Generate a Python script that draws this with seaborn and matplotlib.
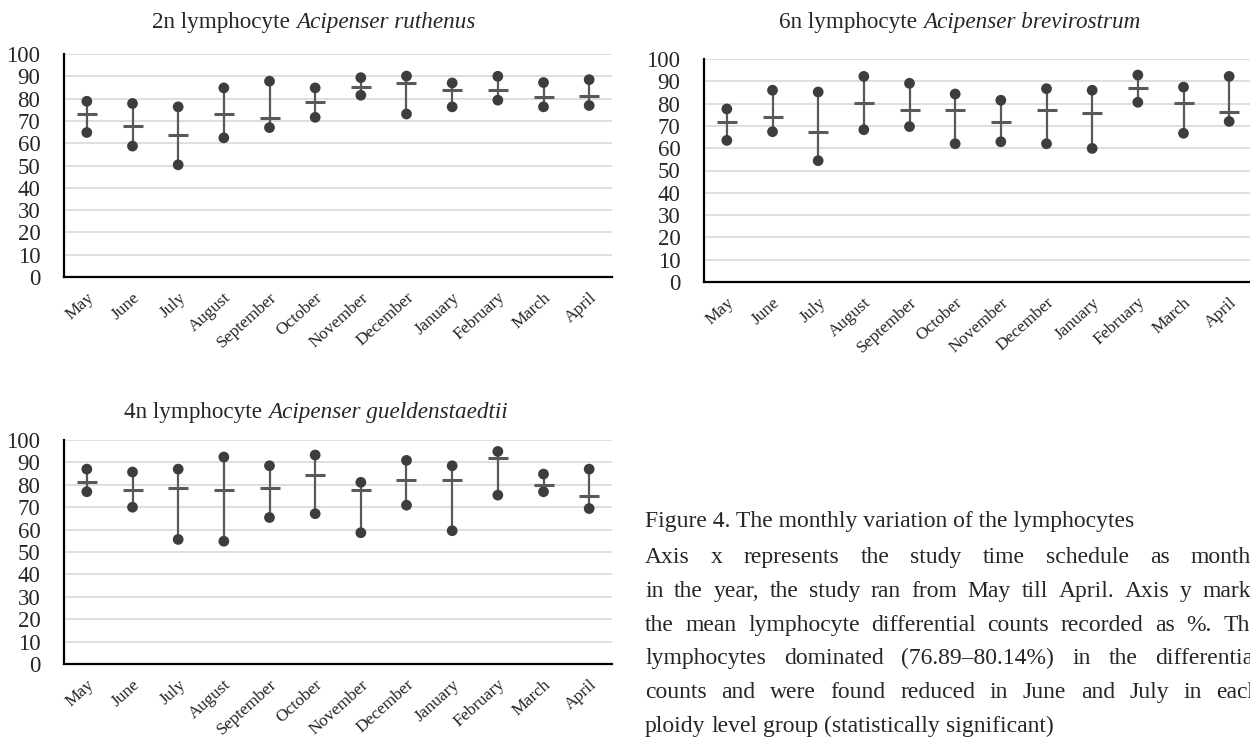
import numpy as np
import pandas as pd
import matplotlib
matplotlib.use("Agg")
import matplotlib.pyplot as plt
import seaborn as sns

# ---------------- data ----------------
months = ["May", "June", "July", "August", "September", "October",
          "November", "December", "January", "February", "March", "April"]

ruthenus_high = [78.8, 77.8, 76.3, 84.8, 87.8, 84.8, 89.4, 90.1, 87.0, 90.0, 87.2, 88.5]
ruthenus_mean = [73.0, 67.6, 63.7, 73.0, 71.3, 78.4, 85.2, 86.9, 83.7, 83.7, 80.7, 81.3]
ruthenus_low = [64.8, 58.7, 50.3, 62.4, 67.0, 71.6, 81.5, 73.1, 76.3, 79.3, 76.3, 76.9]

brevirostrum_high = [77.6, 86.0, 85.2, 92.2, 89.1, 84.3, 81.5, 86.7, 86.0, 92.8, 87.4, 92.2]
brevirostrum_mean = [71.7, 74.1, 67.1, 80.3, 77.3, 77.3, 71.7, 77.3, 75.6, 87.1, 80.3, 76.2]
brevirostrum_low = [63.5, 67.4, 54.4, 68.3, 69.7, 62.0, 62.9, 62.0, 59.9, 80.6, 66.7, 72.0]

gueld_high = [87.0, 85.7, 87.0, 92.4, 88.5, 93.3, 81.1, 90.9, 88.5, 94.9, 84.8, 87.0]
gueld_mean = [81.4, 77.6, 78.4, 77.6, 78.4, 84.5, 77.6, 82.3, 82.3, 92.1, 80.0, 75.1]
gueld_low = [76.9, 70.0, 55.6, 54.8, 65.4, 67.1, 58.6, 70.9, 59.5, 75.4, 76.9, 69.4]

y_ticks = list(range(0, 101, 10))

titles = [("2n lymphocyte", "Acipenser ruthenus"),
          ("6n lymphocyte", "Acipenser brevirostrum"),
          ("4n lymphocyte", "Acipenser gueldenstaedtii")]

caption_title = "Figure 4. The monthly variation of the lymphocytes"
caption_lines = [
    "Axis x represents the study time schedule as months",
    "in the year, the study ran from May till April. Axis y marks",
    "the mean lymphocyte differential counts recorded as %. The",
    "lymphocytes dominated (76.89\u201380.14%) in the differential",
    "counts and were found reduced in June and July in each",
    "ploidy level group (statistically significant)",
]

# ---------------- style ----------------
sns.set_style("white")
plt.rcParams["font.family"] = ["Liberation Serif", "DejaVu Serif"]

W, H = 1250, 738
fig = plt.figure(figsize=(W / 100, H / 100), dpi=100)

LINE = "#595959"
DOT = "#3d3d3d"
GRID = "#d9d9d9"


def px_axes(l, t, r, b):
    return fig.add_axes([l / W, 1 - b / H, (r - l) / W, (b - t) / H])


def draw(ax, high, mean, low):
    pos = np.arange(len(months))
    df = pd.DataFrame({"pos": pos, "high": high, "mean": mean, "low": low})
    seg = pd.concat([
        df[["pos", "low"]].rename(columns={"low": "v"}),
        df[["pos", "high"]].rename(columns={"high": "v"}),
    ], ignore_index=True)
    sns.lineplot(data=seg, x="pos", y="v", units="pos", estimator=None,
                 color=LINE, lw=1.6, ax=ax, zorder=2)
    sns.scatterplot(data=df, x="pos", y="high", color=DOT, s=60,
                    edgecolor="none", ax=ax, zorder=3)
    sns.scatterplot(data=df, x="pos", y="low", color=DOT, s=60,
                    edgecolor="none", ax=ax, zorder=3)
    sns.scatterplot(data=df, x="pos", y="mean", marker="_", s=220,
                    linewidth=2.2, color=LINE, ax=ax, zorder=4)
    ax.set_xlim(-0.5, len(months) - 0.5)
    ax.set_ylim(0, 100)
    ax.set_yticks(y_ticks)
    ax.set_xticks(pos)
    ax.set_xticklabels(months, rotation=42, ha="right", va="top",
                       rotation_mode="anchor", fontsize=12.5)
    ax.set_xticks([-0.5], minor=True)
    ax.tick_params(axis="x", which="major", length=0, pad=9)
    ax.tick_params(axis="x", which="minor", length=7, width=1.5, color="black")
    ax.tick_params(axis="y", length=7, width=1.5, color="black", pad=10,
                   labelsize=16.5)
    ax.set_xlabel("")
    ax.set_ylabel("")
    ax.yaxis.grid(True, color=GRID, lw=1.2)
    ax.xaxis.grid(False)
    ax.set_axisbelow(True)
    for s in ["top", "right"]:
        ax.spines[s].set_visible(False)
    for s in ["left", "bottom"]:
        ax.spines[s].set_color("black")
        ax.spines[s].set_linewidth(1.6)


ax1 = px_axes(64, 54, 612, 277)
draw(ax1, ruthenus_high, ruthenus_mean, ruthenus_low)
ax2 = px_axes(704, 59, 1252, 282)
draw(ax2, brevirostrum_high, brevirostrum_mean, brevirostrum_low)
ax3 = px_axes(64, 440, 612, 664)
draw(ax3, gueld_high, gueld_mean, gueld_low)

renderer = fig.canvas.get_renderer()


def text_w(s, **kw):
    t = fig.text(0, 0, s, **kw)
    w = t.get_window_extent(renderer).width
    t.remove()
    return w


def mixed_title(cx, by, regular, italic, size):
    sp = text_w("a a", fontsize=size) - text_w("aa", fontsize=size)
    w1 = text_w(regular, fontsize=size)
    w2 = text_w(italic, fontsize=size, style="italic")
    x0 = cx - (w1 + sp + w2) / 2
    fig.text(x0 / W, 1 - by / H, regular, fontsize=size, va="baseline")
    fig.text((x0 + w1 + sp) / W, 1 - by / H, italic, fontsize=size,
             style="italic", va="baseline")


TSIZE = 16.7
mixed_title(314, 28, titles[0][0], titles[0][1], TSIZE)
mixed_title(960, 28, titles[1][0], titles[1][1], TSIZE)
mixed_title(316, 418, titles[2][0], titles[2][1], TSIZE)

CSIZE = 17
LEFT = 645
RIGHT = 1260
fig.text(LEFT / W, 1 - 527 / H, caption_title, fontsize=CSIZE, va="baseline")


def justified(line, by, justify):
    words = line.split(" ")
    widths = [text_w(w, fontsize=CSIZE) for w in words]
    space = text_w("a a", fontsize=CSIZE) - text_w("aa", fontsize=CSIZE)
    gap = space
    if justify and len(words) > 1:
        gap = max((RIGHT - LEFT - sum(widths)) / (len(words) - 1), 0.7 * space)
    x = LEFT
    for w, wd in zip(words, widths):
        fig.text(x / W, 1 - by / H, w, fontsize=CSIZE, va="baseline")
        x += wd + gap


for i, line in enumerate(caption_lines):
    justified(line, 563 + 33.8 * i, i < len(caption_lines) - 1)

fig.savefig("out.png", dpi=100)
